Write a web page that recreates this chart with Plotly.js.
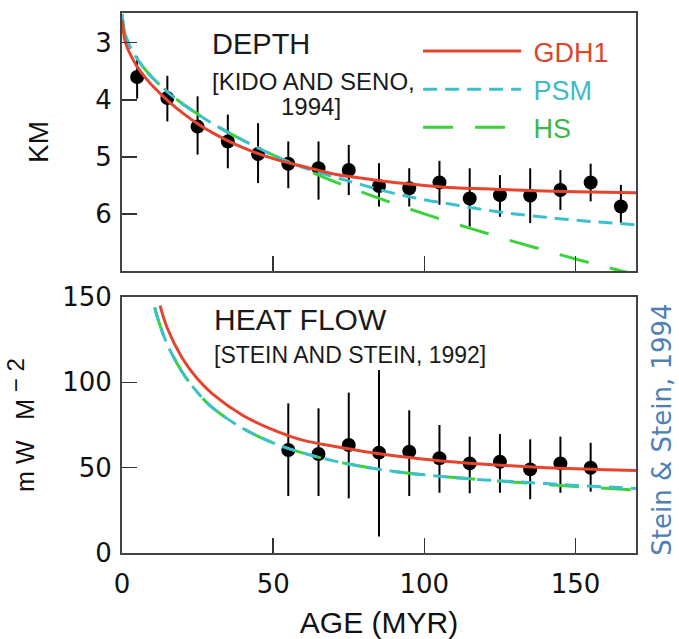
<!DOCTYPE html>
<html><head><meta charset="utf-8">
<script src="https://cdn.plot.ly/plotly-3.0.1.min.js"></script>
<style>html,body{margin:0;padding:0;background:#fff}#chart{width:679px;height:639px}</style>
</head><body><div id="chart"></div>
<script>
// ---- Depth data (Kido and Seno, 1994) ----
const depthAges      = [5, 15, 25, 35, 45, 55, 65, 75, 85, 95, 105, 115, 125, 135, 145, 155, 165];
const depthValues    = [3.60, 3.97, 4.47, 4.73, 4.95, 5.12, 5.20, 5.23, 5.51, 5.55, 5.45, 5.73, 5.67, 5.68, 5.58, 5.45, 5.87];
const depthErrPlus   = [0.38, 0.41, 0.49, 0.47, 0.51, 0.43, 0.55, 0.44, 0.36, 0.32, 0.39, 0.49, 0.38, 0.48, 0.35, 0.33, 0.29];
const depthErrMinus  = [0.36, 0.39, 0.53, 0.47, 0.54, 0.39, 0.47, 0.44, 0.40, 0.35, 0.38, 0.53, 0.35, 0.48, 0.35, 0.33, 0.38];

// ---- Heat flow data (Stein and Stein, 1992) ----
const heatAges       = [55, 65, 75, 85, 95, 105, 115, 125, 135, 145, 155];
const heatValues     = [60.4, 58.0, 63.3, 58.8, 59.4, 55.5, 52.5, 53.5, 49.0, 52.5, 50.0];
const heatErrPlus    = [27.3, 26.8, 30.7, 48.4, 24.2, 19.5, 15.7, 16.2, 17.6, 15.7, 14.6];
const heatErrMinus   = [27.0, 24.6, 31.3, 49.2, 26.0, 20.2, 17.5, 18.2, 17.5, 17.2, 14.1];

// ---- Model curves: depth (km) ----
const curveAgesDepth = [0, 1, 2, 3, 5, 7.5, 10, 15, 20, 25, 30, 40, 50, 60, 70, 80, 90, 100, 110, 120, 130, 140, 150, 160, 170];
const gdh1Depth      = [2.60, 2.97, 3.12, 3.23, 3.42, 3.60, 3.75, 4.01, 4.23, 4.42, 4.58, 4.84, 5.03, 5.17, 5.30, 5.38, 5.45, 5.50, 5.54, 5.56, 5.58, 5.60, 5.61, 5.62, 5.63];
const psmDepth       = [2.50, 2.85, 2.99, 3.11, 3.28, 3.46, 3.61, 3.86, 4.07, 4.25, 4.42, 4.71, 4.97, 5.19, 5.35, 5.50, 5.64, 5.75, 5.84, 5.93, 6.00, 6.06, 6.11, 6.15, 6.19];
const hsDepth        = [2.50, 2.85, 2.99, 3.11, 3.28, 3.46, 3.61, 3.86, 4.07, 4.25, 4.42, 4.71, 4.97, 5.21, 5.43, 5.63, 5.82, 6.00, 6.17, 6.33, 6.49, 6.64, 6.79, 6.93, 7.06];

// ---- Model curves: heat flow (mW m^-2) ----
const curveAgesHeatGdh1 = [12.6, 15, 20, 25, 30, 40, 50, 55, 60, 70, 80, 90, 100, 110, 120, 130, 140, 150, 160, 170];
const gdh1Heat          = [145, 131.7, 114.0, 102.0, 93.1, 80.6, 72.1, 68.8, 66.0, 62.5, 59.5, 57.0, 55.0, 53.3, 52.0, 51.0, 50.0, 49.3, 48.8, 48.4];
const curveAgesHeatModels = [10.8, 12, 15, 20, 25, 30, 40, 50, 60, 70, 80, 90, 100, 110, 120, 130, 140, 150, 160, 170];
const psmHeat           = [144, 136.5, 122.1, 105.8, 94.0, 85.0, 73.0, 64.5, 58.5, 54.0, 50.5, 47.8, 45.8, 44.2, 42.8, 41.8, 40.7, 39.6, 38.7, 37.8];
const hsHeat            = [144, 136.5, 122.1, 105.8, 94.0, 85.0, 73.0, 64.5, 58.5, 54.0, 50.5, 47.8, 45.8, 44.2, 42.8, 41.5, 40.2, 39.0, 37.9, 36.8];

const names = ['GDH1', 'PSM', 'HS'];
const colRed = '#e5452e', colCyan = '#3cc0cc', colGreen = '#3cd23c';
const txtRed = '#d9472f', txtCyan = '#3fbac6', txtGreen = '#3cb84a';
const dashPSM = '14px,8px', dashHS = '30px,22px';

const txtFont = 'Liberation Sans, Arial, sans-serif';
const numFont = 'DejaVu Sans, sans-serif';

function legName(name, color) {
  return '<span style="color:' + color + '">&nbsp;' + name + '</span>';
}

const traces = [
  {x: depthAges, y: depthValues, type: 'scatter', mode: 'markers', xaxis: 'x', yaxis: 'y', showlegend: false,
   marker: {color: '#000', size: 14},
   error_y: {type: 'data', symmetric: false, array: depthErrPlus, arrayminus: depthErrMinus, color: '#000', thickness: 2, width: 0}},
  {x: heatAges, y: heatValues, type: 'scatter', mode: 'markers', xaxis: 'x2', yaxis: 'y2', showlegend: false,
   marker: {color: '#000', size: 14},
   error_y: {type: 'data', symmetric: false, array: heatErrPlus, arrayminus: heatErrMinus, color: '#000', thickness: 2, width: 0}},
  {x: curveAgesDepth, y: hsDepth, type: 'scatter', mode: 'lines', xaxis: 'x', yaxis: 'y', legendgroup: 'c', legendrank: 3,
   name: legName(names[2], txtGreen), line: {color: colGreen, width: 3, dash: dashHS, shape: 'spline'}},
  {x: curveAgesDepth, y: psmDepth, type: 'scatter', mode: 'lines', xaxis: 'x', yaxis: 'y', legendgroup: 'b', legendrank: 2,
   name: legName(names[1], txtCyan), line: {color: colCyan, width: 3, dash: dashPSM, shape: 'spline'}},
  {x: curveAgesDepth, y: gdh1Depth, type: 'scatter', mode: 'lines', xaxis: 'x', yaxis: 'y', legendgroup: 'a', legendrank: 1,
   name: legName(names[0], txtRed), line: {color: colRed, width: 3, shape: 'spline'}},
  {x: curveAgesHeatModels, y: hsHeat, type: 'scatter', mode: 'lines', xaxis: 'x2', yaxis: 'y2', showlegend: false,
   name: names[2], line: {color: colGreen, width: 3, dash: dashHS, shape: 'spline'}},
  {x: curveAgesHeatModels, y: psmHeat, type: 'scatter', mode: 'lines', xaxis: 'x2', yaxis: 'y2', showlegend: false,
   name: names[1], line: {color: colCyan, width: 3, dash: dashPSM, shape: 'spline'}},
  {x: curveAgesHeatGdh1, y: gdh1Heat, type: 'scatter', mode: 'lines', xaxis: 'x2', yaxis: 'y2', showlegend: false,
   name: names[0], line: {color: colRed, width: 3, shape: 'spline'}}
];

const axisCommon = {
  showgrid: false, zeroline: false, showline: true, linecolor: '#444', linewidth: 2, mirror: true,
  ticks: 'inside', ticklen: 15, tickwidth: 1.5, tickcolor: '#333',
  tickfont: {family: numFont, size: 26, color: '#111'}
};

const layout = {
  width: 679, height: 639,
  margin: {l: 122, r: 43, t: 13, b: 86},
  paper_bgcolor: '#fff', plot_bgcolor: '#fff',
  showlegend: true,
  legend: {x: 0.576, y: 0.974, xanchor: 'left', yanchor: 'top', itemwidth: 98, tracegroupgap: 6,
           bgcolor: 'rgba(0,0,0,0)', font: {family: txtFont, size: 27, color: '#000'}, traceorder: 'normal'},
  xaxis: Object.assign({}, axisCommon, {domain: [0, 1], anchor: 'y', range: [0, 170], tickvals: [50, 100, 150], showticklabels: false}),
  yaxis: Object.assign({}, axisCommon, {domain: [0.5222, 1], anchor: 'x', range: [7.0, 2.48], tickvals: [3, 4, 5, 6],
    ticklabelstandoff: 3,
    title: {text: 'KM', font: {family: txtFont, size: 28, color: '#111'}, standoff: 38}}),
  xaxis2: Object.assign({}, axisCommon, {domain: [0, 1], anchor: 'y2', range: [0, 170], tickvals: [0, 50, 100, 150],
    ticklabelstandoff: 7,
    title: {text: 'AGE (MYR)', font: {family: txtFont, size: 30, color: '#111'}, standoff: 20}}),
  yaxis2: Object.assign({}, axisCommon, {domain: [0, 0.474], anchor: 'x2', range: [0, 150], tickvals: [0, 50, 100, 150],
    ticklabelstandoff: 3,
    title: {text: 'm&nbsp;W&nbsp;&nbsp;&nbsp;M<sup><span style="font-size:24px">&nbsp;−&nbsp;2</span></sup>',
            font: {family: txtFont, size: 25, color: '#111'}, standoff: 20}}),
  annotations: [
    {xref: 'paper', yref: 'paper', x: 0.171, y: 0.9426, xanchor: 'left', yanchor: 'middle', showarrow: false,
     text: 'DEPTH', font: {family: txtFont, size: 29, color: '#1a1a1a'}},
    {xref: 'paper', yref: 'paper', x: 0.171, y: 0.874, xanchor: 'left', yanchor: 'middle', showarrow: false,
     text: '[KIDO AND SENO,', font: {family: txtFont, size: 24, color: '#1a1a1a'}},
    {xref: 'paper', yref: 'paper', x: 0.430, y: 0.826, xanchor: 'right', yanchor: 'middle', showarrow: false,
     text: '1994]', font: {family: txtFont, size: 24, color: '#1a1a1a'}},
    {xref: 'paper', yref: 'paper', x: 0.175, y: 0.4315, xanchor: 'left', yanchor: 'middle', showarrow: false,
     text: 'HEAT FLOW', font: {family: txtFont, size: 30, color: '#1a1a1a'}},
    {xref: 'paper', yref: 'paper', x: 0.175, y: 0.3667, xanchor: 'left', yanchor: 'middle', showarrow: false,
     text: '[STEIN AND STEIN, 1992]', font: {family: txtFont, size: 23, color: '#1a1a1a'}},
    {xref: 'paper', yref: 'paper', x: 1.05, y: 0.2278, xanchor: 'center', yanchor: 'middle', showarrow: false,
     textangle: -90, text: 'Stein &amp; Stein, 1994', font: {family: 'DejaVu Sans, sans-serif', size: 26, color: '#4f80b4'}}
  ]
};

Plotly.newPlot('chart', traces, layout, {staticPlot: true, displayModeBar: false});
</script>
</body></html>
